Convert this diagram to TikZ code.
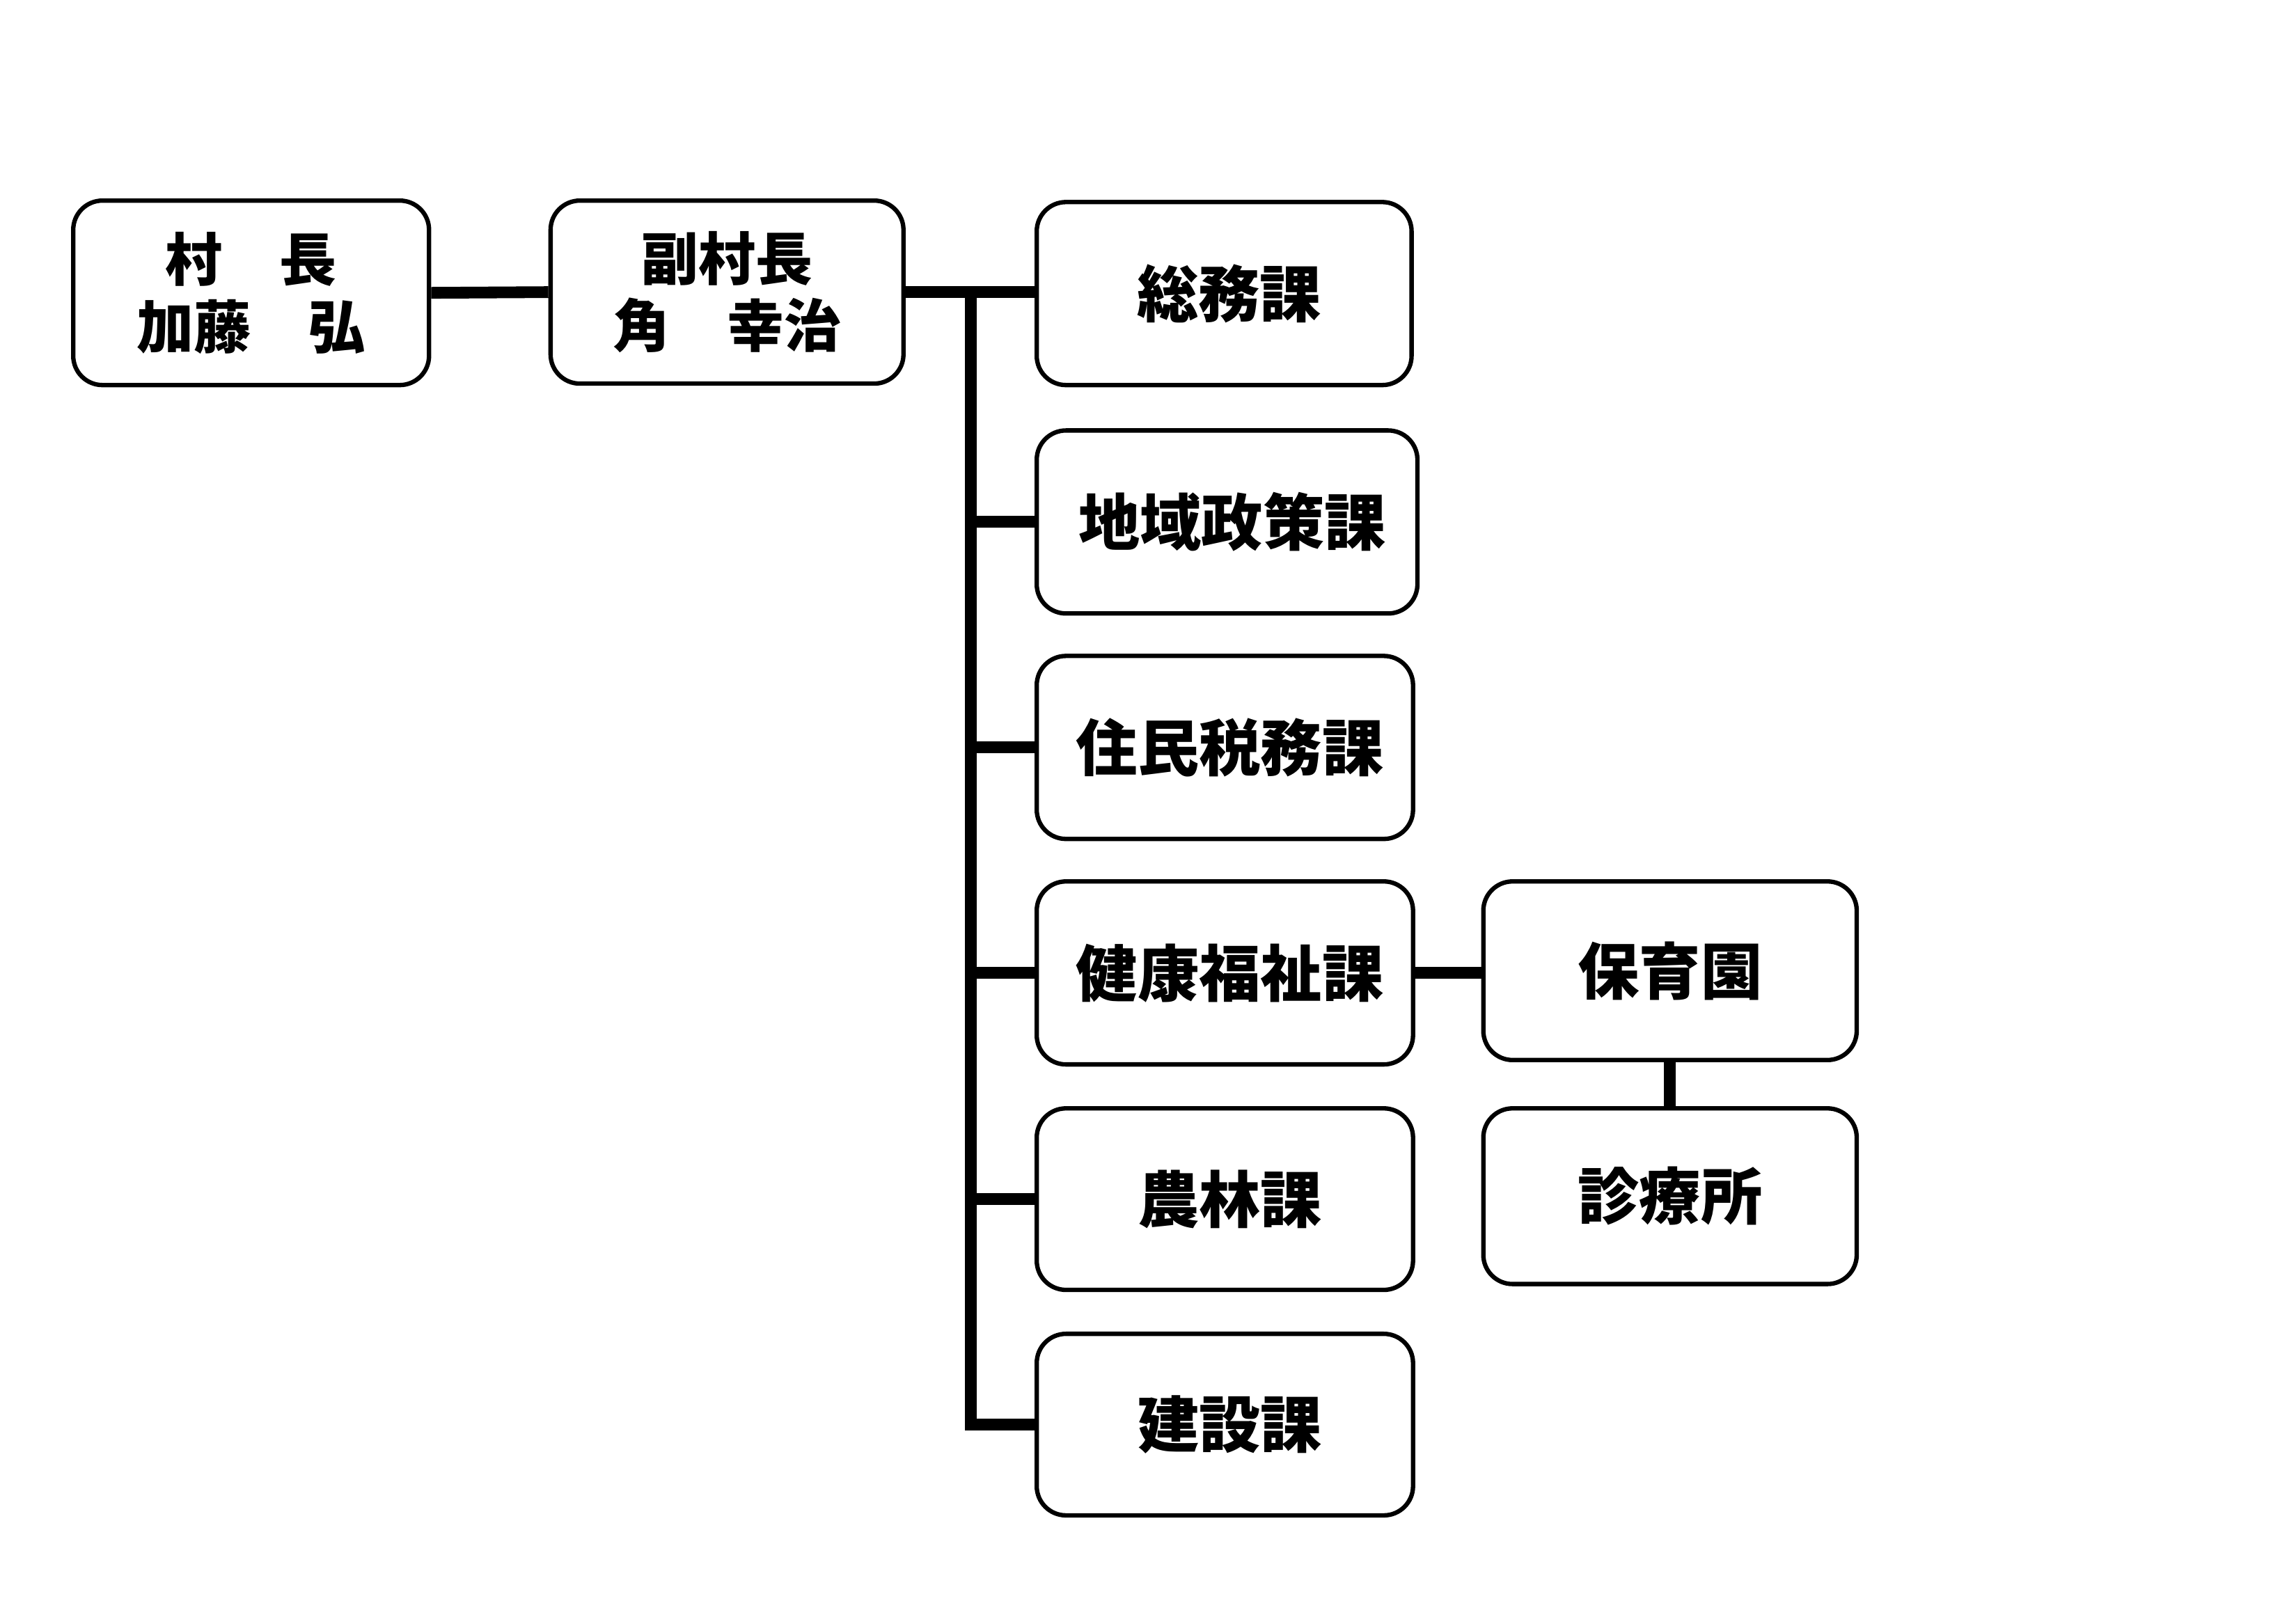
\documentclass[tikz,border=0pt]{standalone}
\usepackage{fontspec}
\setmainfont{Noto Sans CJK JP}
\begin{document}
\begin{tikzpicture}[x=1pt,y=-1pt,
  box/.style={draw=black, line width=3pt, rounded corners=20pt, fill=white,
    inner sep=0pt, font=\fontsize{42}{46}\selectfont\bfseries, align=center},
  dept/.style={box, execute at begin node={\hspace*{7pt}}},
  box2/.style={box, font=\fontsize{39}{46}\selectfont\bfseries},
  conn/.style={line width=8pt, line join=miter}]
\useasboundingbox (0,0) rectangle (1568,1109);
\fill[white] (0,0) rectangle (1568,1109);
\coordinate (trunk) at (663,201);
% nodes
\node[box2, minimum width=243pt, minimum height=126pt] (soncho) at (171.5,200) {村　長\\加藤　弘};
\node[box2, minimum width=241pt, minimum height=125pt] (fuku) at (496.5,199.5) {副村長\\角　幸治};
\node[dept, minimum width=256pt, minimum height=125pt] (somu) at (836,200.5) {総務課};
\node[dept, minimum width=260pt, minimum height=125pt] (chiiki) at (838,356.5) {地域政策課};
\node[dept, minimum width=257pt, minimum height=125pt] (jumin) at (836.5,510.5) {住民税務課};
\node[dept, minimum width=257pt, minimum height=125pt] (kenko) at (836.5,664.5) {健康福祉課};
\node[dept, minimum width=257pt, minimum height=124pt] (norin) at (836.5,819) {農林課};
\node[dept, minimum width=257pt, minimum height=124pt] (kensetsu) at (836.5,973) {建設課};
\node[box, minimum width=255pt, minimum height=122pt] (hoiku) at (1140.5,663) {保育園};
\node[box, minimum width=255pt, minimum height=120pt] (shinryo) at (1140.5,817) {診療所};
% connectors
\draw[conn] (soncho.east) -- (fuku.west);
\draw[conn] (fuku.east) -- (somu.west |- fuku.east);
\draw[conn] (trunk) |- (kensetsu.west);
\draw[conn] (trunk |- chiiki.west) -- (chiiki.west);
\draw[conn] (trunk |- jumin.west) -- (jumin.west);
\draw[conn] (trunk |- kenko.west) -- (kenko.west);
\draw[conn] (trunk |- norin.west) -- (norin.west);
\draw[conn] (kenko.east) -- (hoiku.west |- kenko.east);
\draw[conn] (hoiku.south) -- (shinryo.north);
\end{tikzpicture}
\end{document}
